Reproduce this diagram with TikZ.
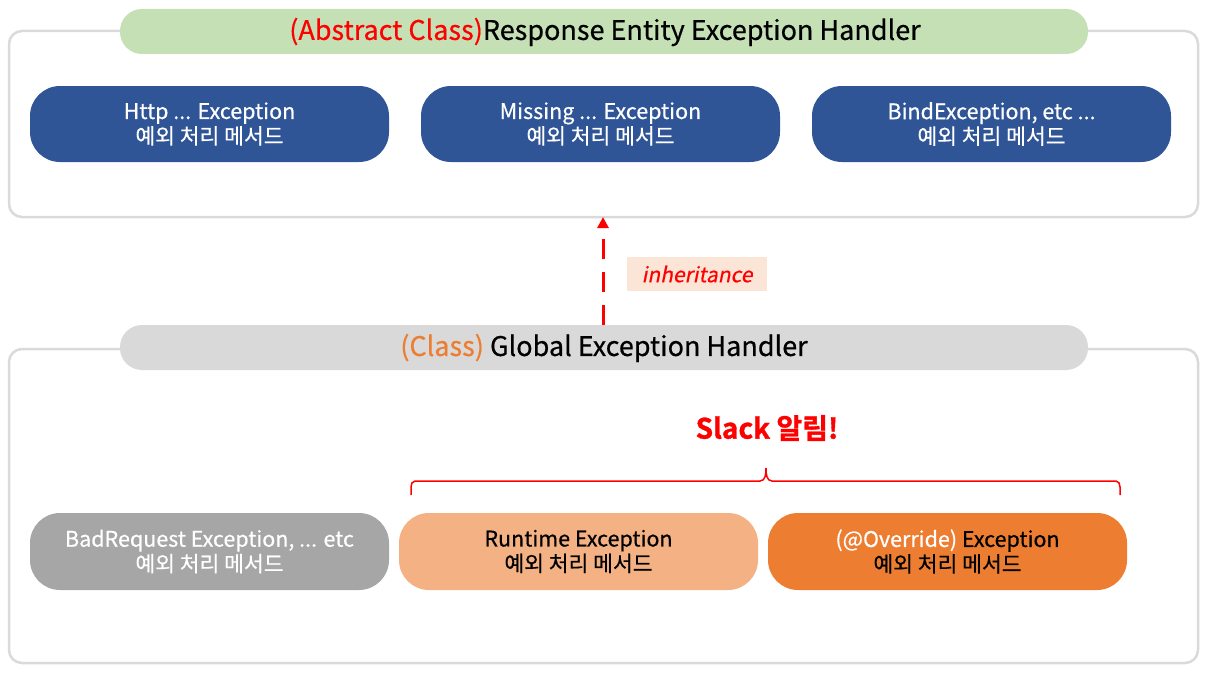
\documentclass[tikz,border=0pt]{standalone}
\usepackage{fontspec}
\setmainfont{Noto Sans CJK KR}[FakeBold=0.5]
\newfontfamily\slfont[FakeSlant=0.2,FakeBold=0.5]{Noto Sans CJK KR}
\newfontfamily\heavyfont[FakeBold=1.2]{Noto Sans CJK KR Bold}
\usetikzlibrary{arrows.meta}
\definecolor{cblue}{HTML}{2F5597}
\definecolor{cgreen}{HTML}{C5E0B4}
\definecolor{cgray}{HTML}{D9D9D9}
\definecolor{cframe}{HTML}{DADADA}
\definecolor{cdgray}{HTML}{A6A6A6}
\definecolor{clor}{HTML}{F4B183}
\definecolor{cor}{HTML}{ED7D31}
\definecolor{clab}{HTML}{FBE5D6}
\definecolor{cred}{HTML}{FF0000}
\tikzset{
  frame/.style={draw=cframe, line width=2.5pt, rounded corners=13pt},
  banner/.style={rounded corners=22pt},
  method/.style={rounded corners=30pt},
  mtext/.style={align=center, font=\fontsize{21.5}{25}\selectfont, inner sep=0pt},
  btext/.style={inner sep=0pt, font=\fontsize{27}{31}\selectfont},
}
\begin{document}
\begin{tikzpicture}[x=1pt,y=-1pt]
\useasboundingbox (0,0) rectangle (1212,685);
% top frame
\draw[frame] (9,31) rectangle (1198,217);
\coordinate (topframeS) at (603,217);
\fill[cgreen, banner] (120,9) rectangle (1088,54);
\node[btext] (ttitle) at (605,32) {\textcolor{cred}{(Abstract Class)}Response Entity Exception Handler};
% blue boxes
\fill[cblue, method] (30,86) rectangle (389,162);
\fill[cblue, method] (421,86) rectangle (780,162);
\fill[cblue, method] (812,86) rectangle (1171,162);
\node[mtext, text=white] (b1) at (209.5,124) {Http ... Exception\\예외 처리 메서드};
\node[mtext, text=white] (b2) at (600.5,124) {Missing ... Exception\\예외 처리 메서드};
\node[mtext, text=white] (b3) at (991.5,124) {BindException, etc ...\\예외 처리 메서드};
% bottom frame
\draw[frame] (9,349) rectangle (1198,663);
\fill[cgray, banner] (120,325) rectangle (1088,370);
\coordinate (gbannerN) at (603,325);
\node[btext] (gtitle) at (604,348) {\textcolor{cor}{(Class)} Global Exception Handler};
% inheritance arrow
\draw[cred, line width=3pt, dash pattern=on 20pt off 13pt, -{Triangle[length=11pt,width=11pt]}] (gbannerN) -- (topframeS);
\node[fill=clab, minimum width=140pt, minimum height=34pt, inner sep=0pt, text=cred, font=\slfont\fontsize{21}{25}\selectfont] (inh) at (697,274) {inheritance};
% slack
\node[text=cred, font=\heavyfont\fontsize{28}{32}\selectfont, inner sep=0pt] (slack) at (767,428) {Slack 알림!};
\coordinate (brL) at (411,495);
\coordinate (brR) at (1120,495);
\coordinate (brT) at (766,468);
\draw[cred, line width=1.5pt] (brL) -- (411,487) to[out=90,in=180] (415,481) -- (760,481) to[out=0,in=-90] (brT) to[out=-90,in=180] (772,481) -- (1116,481) to[out=0,in=90] (1120,487) -- (brR);
% bottom boxes
\fill[cdgray, method] (30,513) rectangle (389,590);
\fill[clor, method] (399,513) rectangle (758,590);
\fill[cor, method] (768,513) rectangle (1127,590);
\node[mtext, text=white] (c1) at (209.5,551.5) {BadRequest Exception, ... etc\\예외 처리 메서드};
\node[mtext, text=black] (c2) at (578.5,551.5) {Runtime Exception\\예외 처리 메서드};
\node[mtext, text=black] (c3) at (947.5,551.5) {\textcolor{white}{(@Override)} Exception\\예외 처리 메서드};
\end{tikzpicture}
\end{document}
